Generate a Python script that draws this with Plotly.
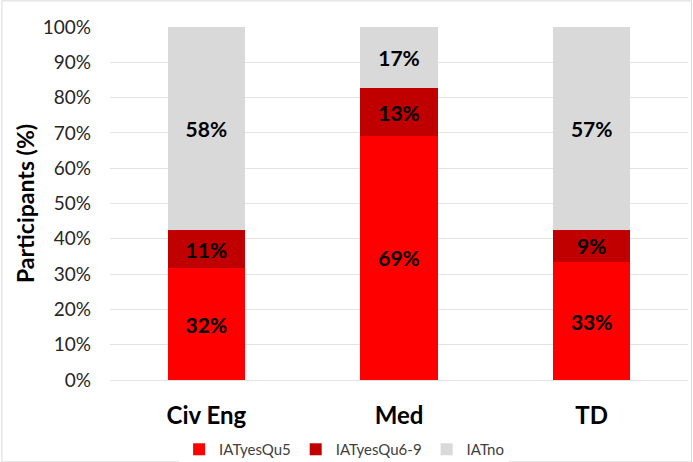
import plotly.graph_objects as go

categories = ["Civ Eng", "Med", "TD"]
series_names = ["IATyesQu5", "IATyesQu6-9", "IATno"]
yes_qu5 = [31.6, 69.2, 33.4]
yes_qu6_9 = [10.8, 13.4, 9.2]
no = [57.6, 17.4, 57.4]
colors = ["#FF0000", "#C00000", "#D9D9D9"]
y_ticks = list(range(0, 101, 10))

FONT = "Lato, 'Open Sans', sans-serif"

fig = go.Figure()
for name, vals, col in zip(series_names, [yes_qu5, yes_qu6_9, no], colors):
    fig.add_trace(go.Bar(
        x=categories, y=vals, name=name,
        marker=dict(color=col, line=dict(width=0)),
        text=[f"{v:.0f}%" for v in vals],
        textposition="inside", insidetextanchor="middle",
        textangle=0, constraintext="none",
        textfont=dict(family=FONT, size=21, color="black", weight="bold"),
        hoverinfo="skip",
    ))

fig.update_layout(
    barmode="stack",
    bargap=0.6,
    width=693, height=462,
    margin=dict(l=110, r=5, t=27, b=82, autoexpand=False),
    plot_bgcolor="white", paper_bgcolor="white",
    font=dict(family=FONT, color="black"),
    showlegend=True,
    legend=dict(orientation="h", x=0.405, xanchor="center",
                yref="container", y=0.027, yanchor="middle",
                font=dict(family=FONT, size=15, color="#404040"),
                traceorder="normal", itemwidth=30),
    xaxis=dict(tickfont=dict(family=FONT, size=24, color="black", weight="bold"),
               showline=False, ticks="", showgrid=False, automargin=False,
               ticklabelstandoff=19),
    yaxis=dict(range=[0, 100], tickvals=y_ticks,
               ticktext=[f"{t}%" for t in y_ticks],
               tickfont=dict(family=FONT, size=19, color="#262626"),
               showgrid=True, gridcolor="#E3E3E3", gridwidth=1,
               zeroline=True, zerolinecolor="#E3E3E3", zerolinewidth=1,
               showline=False, ticks="", ticklen=0, automargin=False,
               ticklabelstandoff=18,
               title=dict(text="<b>Participants (%)</b>",
                          font=dict(family=FONT, size=23, color="black"),
                          standoff=1)),
)

fig.add_shape(type="rect", xref="paper", yref="paper",
              x0=-0.187, x1=1.006, y0=-0.232, y1=1.074,
              line=dict(color="#D9D9D9", width=1), layer="below")

fig.write_html("out.html", config={"displayModeBar": False},
               post_script="document.body.style.margin='0';document.body.style.overflow='hidden';")
